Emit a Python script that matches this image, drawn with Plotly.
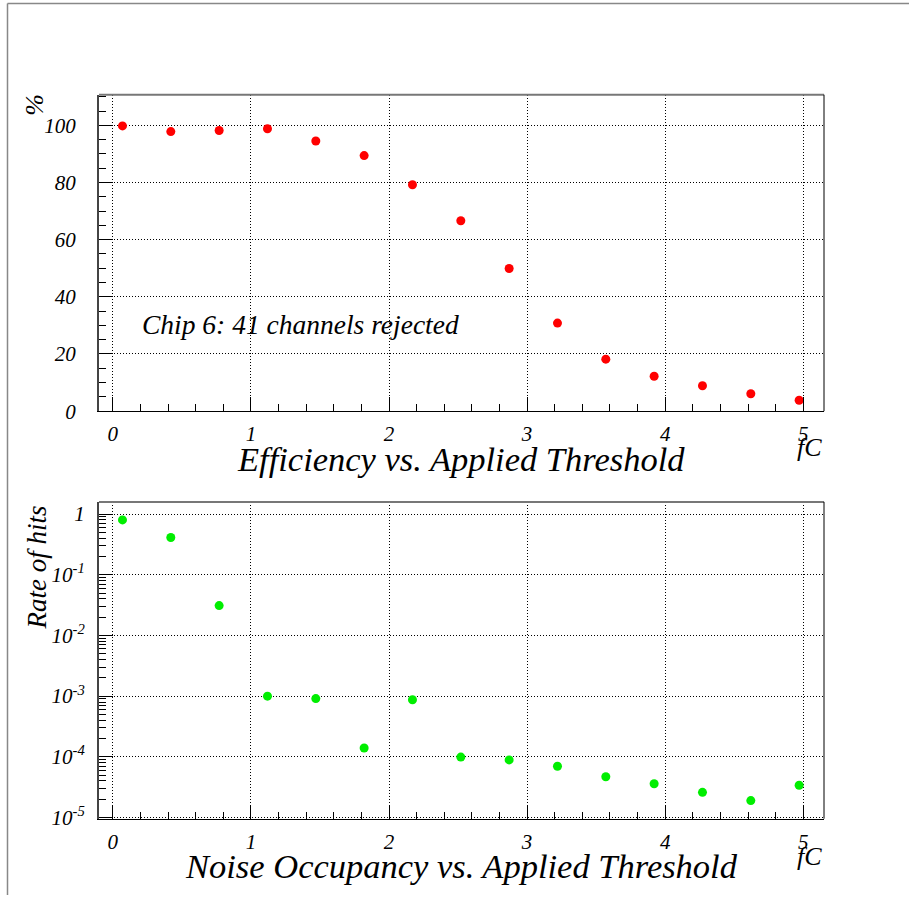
import plotly.graph_objects as go

# ---- data ----
threshold_fC = [0.07, 0.42, 0.77, 1.12, 1.47, 1.82, 2.17, 2.52, 2.87, 3.22, 3.57, 3.92, 4.27, 4.62, 4.97]
efficiency_pct = [99.8, 97.8, 98.2, 98.8, 94.5, 89.4, 79.2, 66.6, 49.9, 30.8, 18.2, 12.2, 8.9, 6.1, 3.8]
noise_rate = [0.80, 0.41, 0.031, 1.0e-3, 9.1e-4, 1.4e-4, 8.7e-4, 9.9e-5, 8.9e-5, 7.0e-5, 4.7e-5, 3.6e-5, 2.6e-5, 1.9e-5, 3.4e-5]

eff_ticks = [0, 20, 40, 60, 80, 100]
x_ticks = [0, 1, 2, 3, 4, 5]
log_tickvals = [1e-5, 1e-4, 1e-3, 1e-2, 1e-1, 1]
log_ticktext = ["10<sup>-5</sup>", "10<sup>-4</sup>", "10<sup>-3</sup>", "10<sup>-2</sup>", "10<sup>-1</sup>", "1"]

W, H = 909, 907
K = 1.0106  # vertical correction
SERIF = "Liberation Serif"

def px(x):
    return x / W

def py(y):
    return 1 - (y * K) / H

fig = go.Figure()
fig.add_trace(go.Scatter(x=threshold_fC, y=efficiency_pct, mode="markers",
                         marker=dict(color="#ff0000", size=9), xaxis="x", yaxis="y",
                         showlegend=False))
fig.add_trace(go.Scatter(x=threshold_fC, y=noise_rate, mode="markers",
                         marker=dict(color="#00ee00", size=9), xaxis="x2", yaxis="y2",
                         showlegend=False))

tickfont = dict(family=SERIF, size=21, color="black", style="italic")
xdom = [px(99), px(824)]
top_dom = [py(412.3), py(95)]
bot_dom = [py(821), py(503.3)]
GRIDDASH = "1px,2px"

def xax():
    return dict(range=[-0.1, 5.15], tickvals=x_ticks, ticks="inside", ticklen=14,
                tickcolor="black", tickwidth=1, showline=True, linecolor="black",
                linewidth=1, showgrid=True, gridcolor="black", griddash=GRIDDASH,
                gridwidth=1, zeroline=False, tickfont=tickfont, ticklabelstandoff=4,
                minor=dict(dtick=0.2, ticklen=7, tickcolor="black", showgrid=False, ticks="inside"),
                domain=xdom)

fig.update_layout(
    width=W, height=H, autosize=False,
    margin=dict(l=0, r=0, t=0, b=0),
    paper_bgcolor="white", plot_bgcolor="white",
    xaxis=dict(**xax(), anchor="y"),
    yaxis=dict(range=[0, 110.7], tickvals=eff_ticks, ticks="inside", ticklen=14,
               tickcolor="black", showline=True, linecolor="#444", linewidth=2,
               showgrid=True, gridcolor="black", griddash=GRIDDASH, gridwidth=1,
               zeroline=False, tickfont=tickfont, ticklabelstandoff=17,
               minor=dict(dtick=5, ticklen=7, tickcolor="black", showgrid=False, ticks="inside"),
               domain=top_dom, anchor="x"),
    xaxis2=dict(**xax(), anchor="y2"),
    yaxis2=dict(type="log", range=[-5.02, 0.2], tickvals=log_tickvals, ticktext=log_ticktext,
                ticks="inside", ticklen=14, tickcolor="black", showline=True,
                linecolor="#444", linewidth=2, showgrid=True, gridcolor="black",
                griddash=GRIDDASH, gridwidth=1, zeroline=False, tickfont=tickfont,
                ticklabelstandoff=8,
                minor=dict(dtick="D1", ticklen=7, tickcolor="black", showgrid=False, ticks="inside"),
                domain=bot_dom, anchor="x2"),
)

shapes = []
for xr, yr in (("x domain", "y domain"), ("x2 domain", "y2 domain")):
    shapes.append(dict(type="line", xref=xr, yref=yr, x0=0, x1=1, y0=1, y1=1,
                       line=dict(color="#777", width=2)))
    shapes.append(dict(type="line", xref=xr, yref=yr, x0=1, x1=1, y0=0, y1=1,
                       line=dict(color="black", width=1)))
shapes.append(dict(type="line", xref="paper", yref="paper", x0=px(7.5), x1=1,
                   y0=py(3.5), y1=py(3.5), line=dict(color="#888", width=1.5)))
shapes.append(dict(type="line", xref="paper", yref="paper", x0=px(7.5), x1=px(7.5),
                   y0=0, y1=py(3.5), line=dict(color="#888", width=1.5)))
fig.update_layout(shapes=shapes)

def ann(text, x, y, size, angle=0):
    return dict(text=text, xref="paper", yref="paper", x=px(x), y=py(y),
                xanchor="center", yanchor="middle", showarrow=False, textangle=angle,
                font=dict(family=SERIF, size=size, color="black", style="italic"))

fig.update_layout(annotations=[
    ann("%", 35, 105, 26, -90),
    ann("Rate of hits", 37, 569, 27, -90),
    ann("Efficiency vs. Applied Threshold", 461.5, 460, 34.5),
    ann("Noise Occupancy vs. Applied Threshold", 461.5, 868, 34.5),
    ann("fC", 809, 449, 26),
    ann("fC", 809, 859, 26),
    ann("Chip 6: 41 channels rejected", 300, 325, 27.5),
])

fig.write_html("out.html",
               post_script="document.body.style.margin='0';document.body.style.overflow='hidden';")
